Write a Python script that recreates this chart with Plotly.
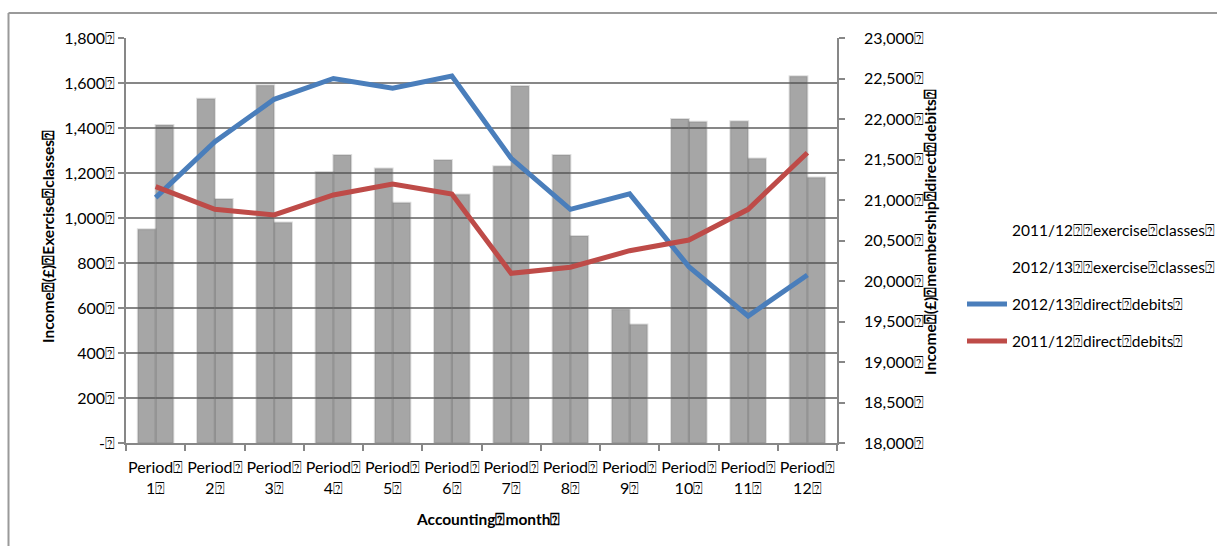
import plotly.graph_objects as go

BOX = "\u2370"  # placeholder glyph that appears in place of spaces

# Accounting periods
periods = [f"Period {i}" for i in range(1, 13)]
period_labels = [f"Period{BOX}<br>{i}{BOX}" for i in range(1, 13)]

# Exercise class income (£), left axis
exercise_1112 = [950, 1530, 1590, 1205, 1220, 1258, 1230, 1280, 594, 1440, 1430, 1630]
exercise_1213 = [1413, 1085, 980, 1280, 1068, 1105, 1587, 920, 527, 1428, 1265, 1180]

# Membership direct debit income (£), right axis
dd_1213 = [21030, 21720, 22243, 22500, 22380, 22530, 21515, 20885, 21075, 20177, 19568, 20074]
dd_1112 = [21165, 20885, 20815, 21062, 21198, 21074, 20095, 20170, 20374, 20506, 20885, 21584]

# Axis ticks
left_vals = list(range(0, 2000, 200))
left_text = [f"-{BOX}"] + [f"{v:,}{BOX}" for v in left_vals[1:]]
right_vals = list(range(18000, 23500, 500))
right_text = [f"{v:,}{BOX}" for v in right_vals]

FONT = "Lato, 'Open Sans', sans-serif"
GRID = "#878787"
BAR_FILL = "rgba(78,78,78,0.5)"
BAR_EDGE = "rgba(120,120,120,0.25)"

fig = go.Figure()

fig.add_trace(go.Bar(x=periods, y=exercise_1112, name="2011/12 exercise classes",
                     marker=dict(color=BAR_FILL, line=dict(color=BAR_EDGE, width=2)),
                     showlegend=False))
fig.add_trace(go.Bar(x=periods, y=exercise_1213, name="2012/13 exercise classes",
                     marker=dict(color=BAR_FILL, line=dict(color=BAR_EDGE, width=2)),
                     showlegend=False))

fig.add_trace(go.Scatter(x=periods, y=dd_1213, yaxis="y2", mode="lines",
                         line=dict(color="#4A7EBB", width=5), showlegend=False))
fig.add_trace(go.Scatter(x=periods, y=dd_1112, yaxis="y2", mode="lines",
                         line=dict(color="#BE4B48", width=5), showlegend=False))

# Legend entries (bars appear without a swatch)
legend_items = [
    (f"2011/12{BOX}{BOX}exercise{BOX}classes{BOX}", "rgba(0,0,0,0)"),
    (f"2012/13{BOX}{BOX}exercise{BOX}classes{BOX}", "rgba(0,0,0,0)"),
    (f"2012/13{BOX}direct{BOX}debits{BOX}", "#4A7EBB"),
    (f"2011/12{BOX}direct{BOX}debits{BOX}", "#BE4B48"),
]
for i, (name, col) in enumerate(legend_items):
    fig.add_trace(go.Scatter(x=[None], y=[None], mode="lines", name=name,
                             line=dict(color=col, width=5), legendgroup=f"g{i}",
                             yaxis="y2"))

L, R, T, B = 126, 837, 38, 443
W, H = 1217, 546


def px_x(p):
    return (p - L) / (R - L)


def px_y(p):
    return (B - p) / (B - T)


fig.update_layout(
    width=W, height=H,
    margin=dict(l=L, r=W - R, t=T, b=H - B, pad=0, autoexpand=False),
    paper_bgcolor="white", plot_bgcolor="white",
    font=dict(family=FONT, size=16, color="#000000"),
    barmode="group", bargap=0.4, bargroupgap=0,
    xaxis=dict(type="category", range=[-0.5, 11.5], tickmode="array",
               tickvals=periods, ticktext=period_labels, tickson="boundaries",
               tickangle=0, ticklabelstandoff=9, automargin=False,
               ticks="outside", ticklen=6, tickcolor=GRID, tickwidth=1.5,
               showline=True, linecolor=GRID, linewidth=1.5, showgrid=False,
               zeroline=False, tickfont=dict(size=16)),
    yaxis=dict(range=[0, 1800], tickmode="array", tickvals=left_vals, ticktext=left_text,
               ticks="outside", ticklen=6, tickcolor=GRID, tickwidth=1.5,
               showline=True, linecolor=GRID, linewidth=1.5, automargin=False,
               showgrid=True, gridcolor=GRID, gridwidth=1.5, zeroline=False,
               tickfont=dict(size=16)),
    yaxis2=dict(range=[18000, 23000], overlaying="y", side="right", tickmode="array",
                tickvals=right_vals, ticktext=right_text, ticklabelstandoff=16,
                ticks="outside", ticklen=6, tickcolor=GRID, tickwidth=1.5,
                showline=True, linecolor=GRID, linewidth=1.5, automargin=False,
                showgrid=False, zeroline=False, tickfont=dict(size=16)),
    legend=dict(x=px_x(962), y=px_y(213), xanchor="left", yanchor="top",
                bgcolor="rgba(0,0,0,0)", font=dict(size=15.5),
                tracegroupgap=14, itemwidth=40),
    showlegend=True,
)

# Axis titles
fig.add_annotation(text=f"<b>Income{BOX}(£){BOX}Exercise{BOX}classes{BOX}</b>",
                   xref="paper", yref="paper", x=px_x(48), y=px_y(237),
                   textangle=-90, showarrow=False, font=dict(size=15.5),
                   xanchor="center", yanchor="middle")
fig.add_annotation(text=f"<b>Income{BOX}(£){BOX}membership{BOX}direct{BOX}debits{BOX}</b>",
                   xref="paper", yref="paper", x=px_x(930), y=px_y(232),
                   textangle=-90, showarrow=False, font=dict(size=15.5),
                   xanchor="center", yanchor="middle")
fig.add_annotation(text=f"<b>Accounting{BOX}month{BOX}</b>",
                   xref="paper", yref="paper", x=px_x(488), y=px_y(519),
                   showarrow=False, font=dict(size=15.5),
                   xanchor="center", yanchor="middle")

# Chart frame (top and left edges)
frame = dict(color="#9a9a9a", width=2)
fig.add_shape(type="line", xref="paper", yref="paper",
              x0=px_x(8.5), x1=px_x(W + 5), y0=px_y(13), y1=px_y(13), line=frame)
fig.add_shape(type="line", xref="paper", yref="paper",
              x0=px_x(8.5), x1=px_x(8.5), y0=px_y(13), y1=px_y(H + 5), line=frame)

fig.write_html("out.html")
